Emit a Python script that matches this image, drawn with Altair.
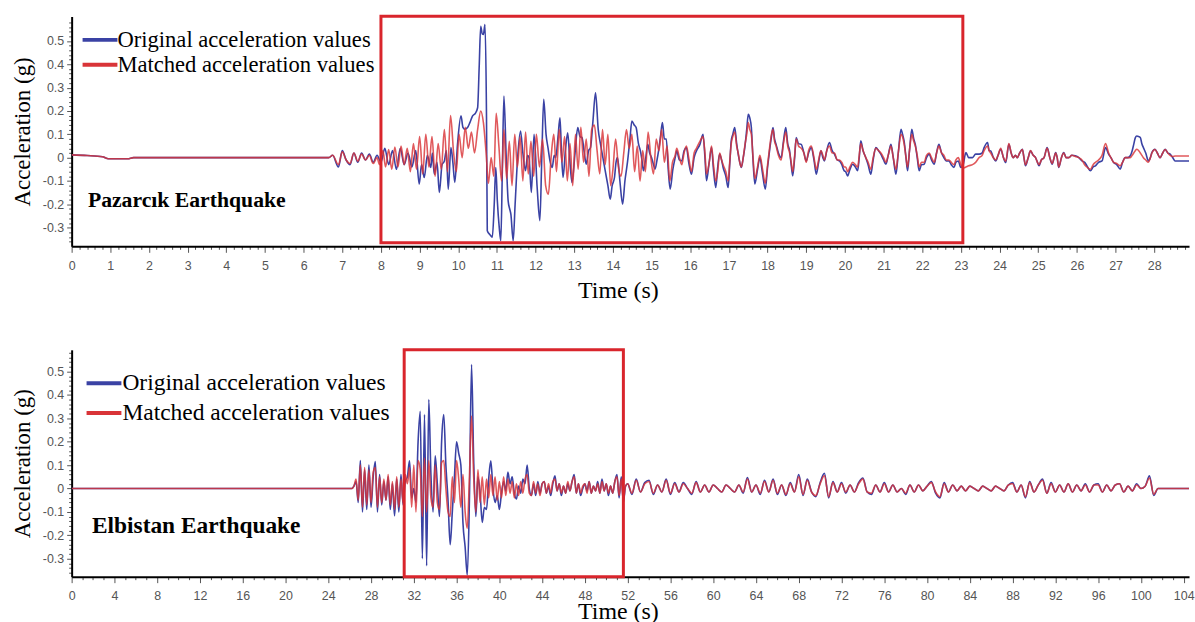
import altair as alt
import pandas as pd

ORIG = "Original acceleration values"
MATCH = "Matched acceleration values"
BLUE = "#3a42a4"
RED = "#d93438"
BOX_RED = "#d9252c"

# ---------------- Pazarcik record (time s, acceleration g) ----------------
TOP_PRE = [(0.0, 0.012), (0.4, 0.009), (0.8, 0.004), (0.95, -0.005), (1.45, -0.005),
           (1.6, 0.0), (6.65, 0.0)]

TOP_ORIG = [
    (6.75, 0.01), (6.9, -0.04), (7.0, 0.03), (7.1, -0.01), (7.2, -0.03), (7.3, 0.02),
    (7.4, -0.02), (7.5, 0.02), (7.6, -0.01), (7.7, 0.015), (7.8, -0.02), (7.9, 0.01),
    (8.0, -0.02), (8.1, 0.04), (8.2, -0.03), (8.3, 0.03), (8.4, -0.05), (8.5, 0.04),
    (8.6, -0.03), (8.7, 0.02), (8.8, -0.04), (8.9, 0.03), (8.99, -0.113), (9.05, -0.03),
    (9.12, -0.085), (9.2, 0.01), (9.29, -0.042), (9.33, 0.02), (9.38, -0.071), (9.45, -0.02),
    (9.51, -0.149), (9.58, -0.03), (9.64, -0.014), (9.69, 0.03), (9.74, -0.135), (9.81, 0.043),
    (9.86, -0.02), (9.91, -0.106), (9.98, 0.057), (10.07, 0.179), (10.12, 0.13), (10.17, 0.122),
    (10.24, 0.129), (10.3, 0.15), (10.37, 0.179), (10.44, 0.19), (10.5, 0.214), (10.54, 0.385),
    (10.58, 0.563), (10.62, 0.53), (10.65, 0.528), (10.69, 0.57), (10.73, 0.171), (10.75, -0.313),
    (10.82, -0.33), (10.88, -0.341), (10.93, -0.2), (10.97, -0.042), (11.01, -0.185), (11.06, -0.3),
    (11.1, -0.356), (11.14, -0.05), (11.18, 0.264), (11.24, 0.0), (11.29, -0.185), (11.33, -0.22),
    (11.36, -0.242), (11.42, -0.356), (11.47, -0.2), (11.53, -0.014), (11.61, 0.114), (11.67, 0.02),
    (11.74, -0.056), (11.79, 0.01), (11.83, 0.0), (11.89, -0.149), (11.96, 0.1), (12.04, -0.128),
    (12.11, -0.27), (12.16, 0.0), (12.21, 0.25), (12.27, 0.1), (12.32, 0.043), (12.38, -0.02),
    (12.43, -0.042), (12.48, 0.01), (12.52, 0.0), (12.58, 0.09), (12.63, 0.171), (12.67, 0.02),
    (12.71, -0.085), (12.77, 0.03), (12.83, 0.107), (12.88, 0.0), (12.94, -0.106), (13.02, 0.02),
    (13.09, 0.129), (13.15, 0.09), (13.2, 0.086), (13.26, 0.02), (13.31, -0.028), (13.37, 0.03),
    (13.42, 0.043), (13.48, 0.15), (13.55, 0.278), (13.62, 0.12), (13.68, 0.057), (13.74, 0.0),
    (13.8, -0.056), (13.87, -0.12), (13.93, -0.178), (13.98, -0.12), (14.04, -0.085), (14.08, -0.02),
    (14.12, 0.0), (14.18, -0.1), (14.25, -0.199), (14.31, -0.1), (14.38, -0.014), (14.44, 0.08),
    (14.49, 0.157), (14.55, 0.14), (14.6, 0.129), (14.66, 0.06), (14.71, 0.029), (14.75, -0.01),
    (14.79, -0.056), (14.85, 0.0), (14.9, 0.057), (14.95, 0.02), (15.0, 0.0), (15.05, -0.03),
    (15.09, -0.049), (15.14, -0.01), (15.18, 0.029), (15.23, 0.09), (15.28, 0.15), (15.33, 0.08),
    (15.38, 0.08), (15.43, -0.05), (15.48, -0.135), (15.55, -0.05), (15.61, 0.0), (15.65, 0.029),
    (15.72, -0.01), (15.78, -0.014), (15.84, 0.03), (15.9, 0.043), (15.96, -0.02), (16.03, -0.071),
    (16.1, 0.0), (16.16, 0.029), (16.25, 0.057), (16.33, 0.1), (16.38, 0.0), (16.42, -0.099),
    (16.49, -0.02), (16.55, 0.043), (16.6, -0.05), (16.66, -0.128), (16.71, -0.04), (16.76, 0.015),
    (16.81, -0.01), (16.85, -0.042), (16.92, -0.08), (16.98, -0.128), (17.02, -0.03), (17.06, 0.072),
    (17.1, 0.1), (17.15, 0.129), (17.2, 0.06), (17.24, 0.015), (17.28, -0.02), (17.32, -0.042),
    (17.37, 0.0), (17.41, 0.043), (17.46, 0.12), (17.5, 0.186), (17.54, 0.17), (17.58, 0.129),
    (17.62, 0.0), (17.67, -0.113), (17.74, -0.05), (17.8, 0.0), (17.87, -0.07), (17.94, -0.135),
    (18.0, -0.04), (18.05, 0.029), (18.1, 0.09), (18.14, 0.129), (18.18, 0.08), (18.22, 0.057),
    (18.28, 0.02), (18.35, 0.0), (18.41, 0.07), (18.47, 0.129), (18.52, 0.06), (18.57, 0.029),
    (18.61, -0.03), (18.65, -0.078), (18.7, 0.0), (18.74, 0.086), (18.8, 0.06), (18.87, 0.057),
    (18.94, 0.02), (19.0, -0.014), (19.06, 0.02), (19.13, 0.043), (19.2, -0.01), (19.26, -0.071),
    (19.32, -0.02), (19.38, 0.029), (19.43, 0.0), (19.47, -0.014), (19.53, 0.03), (19.6, 0.065),
    (19.67, 0.03), (19.73, 0.015), (19.8, -0.01), (19.86, -0.014), (19.92, -0.03), (19.98, -0.056),
    (20.02, -0.06), (20.07, -0.078), (20.13, -0.05), (20.2, -0.028), (20.27, -0.04), (20.33, -0.056),
    (20.37, 0.0), (20.41, 0.072), (20.47, 0.03), (20.54, 0.0), (20.6, -0.03), (20.67, -0.071),
    (20.73, -0.01), (20.8, 0.043), (20.87, 0.03), (20.93, 0.015), (21.0, -0.01), (21.06, -0.028),
    (21.12, 0.01), (21.19, 0.057), (21.25, 0.0), (21.32, -0.071), (21.38, 0.02), (21.45, 0.122),
    (21.49, 0.1), (21.53, 0.072), (21.58, 0.0), (21.62, -0.056), (21.67, 0.03), (21.73, 0.122),
    (21.78, 0.08), (21.82, 0.057), (21.87, 0.0), (21.92, -0.056), (21.98, -0.03), (22.05, -0.028),
    (22.11, 0.0), (22.18, 0.015), (22.24, -0.01), (22.31, -0.028), (22.37, 0.02), (22.43, 0.057),
    (22.5, 0.02), (22.56, 0.0), (22.62, -0.014), (22.69, -0.014), (22.75, -0.03), (22.82, -0.042),
    (22.87, -0.02), (22.93, -0.014), (23.0, -0.042), (23.05, -0.035), (23.13, 0.022), (23.2, 0.0),
    (23.3, 0.0), (23.38, 0.015), (23.47, 0.015), (23.55, 0.02), (23.6, 0.043), (23.69, 0.065),
    (23.73, 0.03), (23.77, 0.029), (23.84, 0.0), (23.9, -0.014), (23.96, 0.01), (24.03, 0.036),
    (24.1, 0.0), (24.16, -0.021), (24.24, 0.057), (24.3, 0.02), (24.35, 0.0), (24.41, 0.01),
    (24.46, 0.0), (24.52, 0.02), (24.59, 0.036), (24.63, 0.0), (24.67, -0.035), (24.74, 0.0),
    (24.8, 0.029), (24.87, 0.01), (24.93, 0.0), (24.98, -0.02), (25.02, -0.035), (25.08, -0.01),
    (25.15, 0.0), (25.23, 0.043), (25.3, 0.0), (25.36, -0.028), (25.41, 0.0), (25.45, 0.022),
    (25.49, 0.0), (25.53, -0.042), (25.6, 0.0), (25.66, 0.022), (25.72, 0.0), (25.79, 0.0),
    (25.87, 0.01), (25.96, 0.008), (26.05, 0.0), (26.13, -0.014), (26.2, -0.02), (26.26, -0.035),
    (26.35, -0.056), (26.42, -0.04), (26.48, -0.035), (26.56, -0.02), (26.65, -0.014), (26.74, 0.043),
    (26.82, 0.015), (26.88, 0.0), (26.95, -0.021), (27.03, -0.03), (27.12, -0.049), (27.18, -0.02),
    (27.25, 0.0), (27.32, 0.0), (27.38, 0.008), (27.43, 0.03), (27.47, 0.057), (27.51, 0.085),
    (27.55, 0.093), (27.6, 0.09), (27.64, 0.086), (27.68, 0.06), (27.72, 0.043), (27.78, 0.02),
    (27.85, -0.014), (27.9, 0.0), (27.94, 0.022), (28.02, 0.036), (28.08, 0.02), (28.15, 0.0),
    (28.22, 0.02), (28.28, 0.036), (28.35, 0.02), (28.41, 0.015), (28.48, 0.0), (28.54, -0.014),
    (28.62, -0.014), (28.9, -0.014),
]

TOP_MATCH = [
    (6.75, 0.01), (6.9, -0.03), (7.0, 0.025), (7.1, -0.01), (7.2, -0.025), (7.3, 0.02),
    (7.4, -0.015), (7.5, 0.015), (7.6, -0.01), (7.7, 0.01), (7.8, -0.025), (7.9, 0.0),
    (7.96, -0.03), (8.05, 0.03), (8.12, -0.04), (8.2, 0.035), (8.28, -0.05), (8.36, 0.045),
    (8.44, -0.04), (8.52, 0.05), (8.6, -0.03), (8.68, 0.04), (8.76, -0.06), (8.84, 0.06),
    (8.92, -0.05), (9.0, 0.09), (9.08, -0.07), (9.16, 0.1), (9.24, -0.04), (9.32, 0.09),
    (9.4, -0.08), (9.48, 0.06), (9.56, -0.05), (9.64, 0.12), (9.72, -0.06), (9.8, 0.18),
    (9.88, 0.02), (9.95, -0.06), (10.02, 0.1), (10.1, 0.0), (10.18, 0.13), (10.26, 0.04),
    (10.34, 0.11), (10.42, 0.02), (10.5, 0.12), (10.58, 0.2), (10.65, 0.15), (10.72, 0.02),
    (10.78, -0.11), (10.85, 0.0), (10.92, -0.08), (10.98, 0.19), (11.05, 0.05), (11.12, -0.1),
    (11.18, 0.12), (11.25, -0.09), (11.32, 0.07), (11.39, -0.12), (11.46, 0.1), (11.53, -0.04),
    (11.6, 0.09), (11.67, -0.1), (11.74, 0.11), (11.81, -0.07), (11.88, 0.07), (11.95, -0.08),
    (12.02, 0.1), (12.1, -0.04), (12.18, 0.08), (12.26, -0.12), (12.33, -0.157), (12.4, 0.0),
    (12.47, 0.1), (12.54, -0.06), (12.61, 0.12), (12.68, -0.02), (12.75, 0.09), (12.82, -0.1),
    (12.89, 0.06), (12.96, -0.12), (13.03, 0.1), (13.1, -0.05), (13.17, 0.13), (13.24, -0.02),
    (13.31, 0.08), (13.38, -0.08), (13.45, 0.12), (13.52, 0.14), (13.59, 0.03), (13.66, -0.07),
    (13.73, 0.12), (13.8, -0.03), (13.87, 0.1), (13.94, -0.12), (14.0, -0.05), (14.07, 0.08),
    (14.14, -0.04), (14.21, -0.08), (14.28, 0.02), (14.35, 0.12), (14.42, 0.04), (14.49, 0.1),
    (14.56, -0.06), (14.63, 0.05), (14.7, -0.1), (14.77, 0.03), (14.84, -0.06), (14.91, 0.11),
    (14.98, 0.0), (15.05, -0.07), (15.12, 0.08), (15.19, 0.03), (15.26, 0.12), (15.33, -0.02),
    (15.4, 0.05), (15.47, -0.1), (15.54, -0.02), (15.61, 0.01), (15.65, 0.04), (15.72, 0.0),
    (15.78, -0.03), (15.84, 0.02), (15.9, 0.05), (15.96, 0.0), (16.03, -0.06), (16.1, 0.02),
    (16.16, 0.04), (16.25, 0.07), (16.33, 0.09), (16.38, 0.02), (16.42, -0.07), (16.49, -0.02),
    (16.55, 0.05), (16.6, -0.03), (16.66, -0.1), (16.71, -0.06), (16.76, 0.02), (16.81, -0.01),
    (16.85, -0.03), (16.92, -0.06), (16.98, -0.1), (17.02, -0.02), (17.06, 0.06), (17.1, 0.09),
    (17.15, 0.11), (17.2, 0.05), (17.24, 0.02), (17.28, -0.02), (17.32, -0.04), (17.37, 0.0),
    (17.41, 0.05), (17.46, 0.1), (17.5, 0.15), (17.54, 0.12), (17.58, 0.1), (17.62, 0.01),
    (17.67, -0.09), (17.74, -0.04), (17.8, 0.01), (17.87, -0.05), (17.94, -0.11), (18.0, -0.03),
    (18.05, 0.04), (18.1, 0.1), (18.14, 0.12), (18.18, 0.07), (18.22, 0.05), (18.28, 0.01),
    (18.35, -0.01), (18.41, 0.06), (18.47, 0.11), (18.52, 0.05), (18.57, 0.02), (18.61, -0.02),
    (18.65, -0.06), (18.7, 0.01), (18.74, 0.08), (18.8, 0.05), (18.87, 0.04), (18.94, 0.02),
    (19.0, -0.02), (19.06, 0.03), (19.13, 0.05), (19.2, 0.0), (19.26, -0.05), (19.32, -0.01),
    (19.38, 0.03), (19.43, 0.01), (19.47, -0.01), (19.53, 0.03), (19.6, 0.05), (19.67, 0.02),
    (19.73, 0.02), (19.8, -0.01), (19.86, -0.01), (19.92, -0.02), (19.98, -0.04), (20.02, -0.04),
    (20.07, -0.06), (20.13, -0.04), (20.2, -0.02), (20.27, -0.03), (20.33, -0.04), (20.37, 0.01),
    (20.41, 0.06), (20.47, 0.03), (20.54, 0.0), (20.6, -0.02), (20.67, -0.05), (20.73, 0.0),
    (20.8, 0.04), (20.87, 0.03), (20.93, 0.02), (21.0, 0.0), (21.06, -0.02), (21.12, 0.01),
    (21.19, 0.05), (21.25, 0.0), (21.32, -0.05), (21.38, 0.02), (21.45, 0.1), (21.49, 0.09),
    (21.53, 0.06), (21.58, 0.0), (21.62, -0.04), (21.67, 0.03), (21.73, 0.1), (21.78, 0.07),
    (21.82, 0.05), (21.87, 0.01), (21.92, -0.04), (21.98, -0.02), (22.05, -0.02), (22.11, 0.01),
    (22.18, 0.02), (22.24, 0.0), (22.31, -0.02), (22.37, 0.02), (22.43, 0.05), (22.5, 0.02),
    (22.56, 0.01), (22.62, -0.01), (22.69, -0.01), (22.75, -0.02), (22.82, -0.03), (22.87, -0.01),
    (22.93, 0.0), (23.0, -0.03), (23.05, -0.045), (23.13, -0.04), (23.2, -0.035), (23.3, -0.03),
    (23.38, -0.02), (23.47, 0.0), (23.55, 0.01), (23.6, 0.03), (23.69, 0.05), (23.73, 0.03),
    (23.77, 0.02), (23.84, 0.0), (23.9, -0.01), (23.96, 0.01), (24.03, 0.04), (24.1, 0.0),
    (24.16, -0.015), (24.24, 0.06), (24.3, 0.02), (24.35, 0.0), (24.41, 0.01), (24.46, 0.0),
    (24.52, 0.02), (24.59, 0.035), (24.63, 0.0), (24.67, -0.03), (24.74, 0.0), (24.8, 0.03),
    (24.87, 0.01), (24.93, 0.0), (24.98, -0.02), (25.02, -0.03), (25.08, -0.01), (25.15, 0.0),
    (25.23, 0.04), (25.3, 0.0), (25.36, -0.025), (25.41, 0.0), (25.45, 0.02), (25.49, 0.0),
    (25.53, -0.04), (25.6, 0.0), (25.66, 0.02), (25.72, 0.0), (25.79, 0.0), (25.87, 0.01),
    (25.96, 0.005), (26.05, 0.0), (26.13, -0.01), (26.2, -0.03), (26.26, -0.04), (26.35, -0.05),
    (26.42, -0.03), (26.48, -0.02), (26.56, -0.01), (26.65, 0.01), (26.74, 0.06), (26.82, 0.02),
    (26.88, 0.0), (26.95, -0.02), (27.03, -0.025), (27.12, -0.035), (27.18, -0.02), (27.25, 0.0),
    (27.32, 0.0), (27.38, 0.0), (27.43, 0.01), (27.47, 0.02), (27.51, 0.03), (27.55, 0.036),
    (27.6, 0.03), (27.64, 0.02), (27.68, 0.01), (27.72, 0.0), (27.78, -0.01), (27.85, -0.02),
    (27.9, 0.0), (27.94, 0.02), (28.02, 0.035), (28.08, 0.02), (28.15, 0.0), (28.22, 0.02),
    (28.28, 0.035), (28.35, 0.02), (28.41, 0.01), (28.48, 0.005), (28.54, 0.007), (28.62, 0.007),
    (28.9, 0.007),
]

# ---------------- Elbistan record ----------------
BOT_LEAD = [(0.0, 0.0)]
BOT_STRONG_START = 26.0
BOT_STRONG_DT = 0.2
BOT_ORIG_STRONG = [
    0.0, 0.0, 0.01, 0.03, -0.06, 0.12, -0.1, 0.08, -0.09, 0.1,
    -0.08, 0.05, 0.115, -0.1, 0.06, -0.07, 0.03, -0.05, 0.05, -0.09,
    0.02, -0.117, 0.04, -0.1, 0.06, -0.07, 0.03, 0.05, 0.118, -0.04,
    0.0, -0.06, 0.2, 0.33, -0.3, 0.316, -0.33, 0.38, 0.06, -0.1,
    0.14, 0.02, -0.12, 0.2, 0.316, 0.1, -0.05, -0.24, -0.1, 0.05,
    0.2, 0.15, 0.1, -0.15, -0.25, -0.37, -0.05, 0.53, 0.12, -0.12,
    0.05, -0.02, -0.145, -0.08, -0.09, 0.04, 0.118, 0.0, -0.06, -0.03,
    -0.09, -0.02, 0.03, -0.01, 0.07, 0.02, 0.05, -0.02, -0.045, 0.01,
    -0.02, 0.04, 0.02, 0.1, 0.0, -0.03, 0.02, -0.03, 0.03, -0.02,
    0.02, 0.03, -0.02, 0.01, -0.03, 0.02, 0.054, -0.01, 0.02, -0.03,
    0.01, -0.02, 0.02, -0.01, 0.03, 0.06, -0.02, 0.02, -0.03, 0.0,
    0.02, -0.01, 0.03, -0.02, 0.01, -0.01, 0.03, -0.02, 0.04, -0.01,
    0.02, -0.03, 0.01, -0.02, 0.03, 0.06, -0.04, 0.05, -0.06, 0.01,
]
BOT_MATCH_STRONG = [
    0.0, 0.0, 0.01, 0.04, -0.05, 0.1, -0.08, 0.09, -0.07, 0.08,
    -0.06, 0.07, 0.09, -0.08, 0.05, -0.06, 0.04, -0.05, 0.06, -0.07,
    0.03, -0.09, 0.05, -0.08, 0.04, -0.06, 0.06, 0.02, 0.09, -0.08,
    0.1, -0.1, 0.12, 0.08, -0.12, 0.13, -0.1, 0.12, -0.04, -0.08,
    0.1, -0.06, -0.09, 0.11, 0.12, 0.0, -0.1, -0.12, 0.05, -0.06,
    0.12, 0.04, -0.08, 0.06, -0.1, -0.17, 0.05, 0.31, 0.05, -0.1,
    0.08, -0.06, 0.05, -0.07, 0.04, -0.04, 0.06, -0.03, 0.05, -0.05,
    0.03, -0.04, 0.05, -0.03, 0.04, -0.02, 0.03, -0.04, 0.02, -0.03,
    0.03, -0.02, 0.04, 0.06, -0.02, -0.03, 0.03, -0.02, 0.02, -0.03,
    0.02, 0.03, -0.02, 0.02, -0.02, 0.03, 0.04, -0.01, 0.02, -0.02,
    0.01, -0.02, 0.03, -0.01, 0.03, 0.05, -0.02, 0.02, -0.02, 0.01,
    0.02, -0.02, 0.03, -0.02, 0.01, -0.01, 0.02, -0.02, 0.03, -0.01,
    0.02, -0.02, 0.01, -0.02, 0.03, 0.05, -0.03, 0.04, -0.05, 0.01,
]
BOT_TAIL_START = 52.0
BOT_TAIL_DT = 0.4
BOT_ORIG_TAIL = [
    0.02, -0.025, 0.04, -0.015, 0.025, 0.035, -0.025, 0.015, -0.015, 0.04,
    -0.025, 0.025, -0.015, 0.025, 0.0, -0.025, 0.03, -0.015, 0.015, -0.015,
    0.015, 0.0, -0.015, 0.015, 0.0, -0.015, 0.015, -0.02, 0.047, -0.015,
    0.015, -0.025, 0.035, -0.015, 0.04, -0.025, 0.015, -0.03, 0.025, -0.015,
    0.06, -0.03, 0.04, -0.015, -0.035, 0.025, 0.065, -0.04, 0.03, -0.015,
    0.025, -0.02, 0.015, -0.015, 0.025, 0.045, -0.015, -0.025, 0.015, -0.015,
    0.025, -0.015, 0.015, -0.015, 0.0, -0.025, 0.015, -0.015, 0.015, -0.01,
    0.01, 0.03, -0.02, -0.04, 0.025, -0.015, 0.015, -0.01, 0.01, -0.01,
    0.01, 0.0, -0.01, 0.01, 0.0, -0.01, 0.01, 0.0, -0.01, 0.015,
    0.025, -0.015, 0.015, -0.04, 0.03, -0.015, 0.015, 0.04, -0.02, 0.025,
    -0.015, 0.015, -0.015, 0.02, -0.015, 0.015, -0.01, 0.02, -0.015, 0.015,
    0.02, -0.015, 0.015, -0.01, 0.015, 0.02, -0.015, 0.01, -0.01, 0.02,
    0.0, 0.01, 0.054, -0.03,
]
BOT_MATCH_TAIL = [
    0.02, -0.02, 0.035, -0.015, 0.02, 0.03, -0.02, 0.015, -0.015, 0.035,
    -0.02, 0.02, -0.015, 0.02, 0.0, -0.02, 0.025, -0.015, 0.015, -0.015,
    0.015, 0.0, -0.015, 0.015, 0.0, -0.015, 0.015, -0.015, 0.04, -0.015,
    0.015, -0.02, 0.03, -0.015, 0.035, -0.02, 0.015, -0.025, 0.02, -0.015,
    0.05, -0.025, 0.035, -0.015, -0.03, 0.02, 0.055, -0.035, 0.025, -0.015,
    0.02, -0.015, 0.015, -0.015, 0.02, 0.04, -0.015, -0.02, 0.015, -0.015,
    0.02, -0.015, 0.015, -0.015, 0.0, -0.02, 0.015, -0.015, 0.015, -0.01,
    0.01, 0.025, -0.015, -0.035, 0.02, -0.015, 0.015, -0.01, 0.01, -0.01,
    0.01, 0.0, -0.01, 0.01, 0.0, -0.01, 0.01, 0.0, -0.01, 0.015,
    0.02, -0.015, 0.015, -0.035, 0.025, -0.015, 0.015, 0.035, -0.02, 0.02,
    -0.015, 0.015, -0.015, 0.02, -0.015, 0.015, -0.01, 0.015, -0.015, 0.015,
    0.015, -0.015, 0.015, -0.01, 0.015, 0.02, -0.015, 0.01, -0.01, 0.015,
    0.0, 0.01, 0.045, -0.025,
]
BOT_END = [(101.6, 0.0), (104.5, 0.0)]

# highlighted windows [t0, t1, a_low, a_high] and panel labels [text, t, a]
TOP_BOX = [8.0, 23.05, -0.365, 0.606]
BOT_BOX = [31.1, 51.6, -0.377, 0.593]
TOP_LABEL = ["Pazarcık Earthquake", 0.42, -0.182]
BOT_LABEL = ["Elbistan Earthquake", 1.9, -0.159]

TOP_XDOMAIN = [0, 28.9]
TOP_YDOMAIN = [-0.38, 0.605]
BOT_XDOMAIN = [0, 104.5]
BOT_YDOMAIN = [-0.377, 0.593]

TOP_XTICKS = [round(0.2 * i, 1) for i in range(145)]
BOT_XTICKS = list(range(105))
Y_TICKS = [round(-0.36 + 0.02 * i, 2) for i in range(48)]


def frame(pairs, name):
    return pd.DataFrame({"t": [p[0] for p in pairs], "v": [p[1] for p in pairs], "s": name})


def bottom_pairs(strong, tail):
    pts = list(BOT_LEAD)
    pts += [(round(BOT_STRONG_START + BOT_STRONG_DT * i, 2), v) for i, v in enumerate(strong)]
    pts += [(round(BOT_TAIL_START + BOT_TAIL_DT * i, 2), v) for i, v in enumerate(tail)]
    pts += BOT_END
    return pts


top_orig = frame(TOP_PRE + TOP_ORIG, ORIG)
top_match = frame(TOP_PRE + TOP_MATCH, MATCH)
bot_orig = frame(bottom_pairs(BOT_ORIG_STRONG, BOT_ORIG_TAIL), ORIG)
bot_match = frame(bottom_pairs(BOT_MATCH_STRONG, BOT_MATCH_TAIL), MATCH)

Y_MAJOR = "abs(datum.value*10 - round(datum.value*10)) < 0.001"
Y_LABEL = (Y_MAJOR + " && datum.value > -0.35 && datum.value < 0.55 ? "
           "(abs(datum.value) < 0.001 ? '0' : replace(format(datum.value, '.1f'), '\u2212', '-')) : ''")

# legend key: a 35 px horizontal stroke drawn with a 20 px symbol size
LEGEND_KEY = "M-1.75,0H1.75"


def make_panel(orig, match, box, label, xdom, ydom, xticks, xmajor, h,
               title_y, legend_x, legend_y, legend_size, row_pad, label_offset,
               label_size, interp):
    xaxis = alt.Axis(
        values=xticks, labelExpr=xmajor + " ? format(datum.value, 'd') : ''",
        tickSize={"condition": {"test": xmajor, "value": 6}, "value": 3},
        tickColor="#555", domainColor="black", domainWidth=2,
        labelColor="#555", labelFont="Liberation Sans", labelFontSize=12.5,
        labelPadding=7, labelOverlap=False, labelFlush=False, grid=False,
        title="Time (s)", titleFont="Liberation Serif", titleFontSize=24,
        titleFontWeight="normal", titleColor="black",
        titleX=549, titleY=title_y, titleBaseline="middle",
    )
    yaxis = alt.Axis(
        values=Y_TICKS, labelExpr=Y_LABEL,
        tickSize={"condition": {"test": Y_MAJOR, "value": 5}, "value": 3},
        tickColor="#555", domainColor="black", domainWidth=2,
        labelColor="#555", labelFont="Liberation Sans", labelFontSize=12.5,
        labelPadding=3, labelOverlap=False, labelFlush=False, grid=False,
        title="Acceleration (g)", titleFont="Liberation Serif", titleFontSize=23,
        titleFontWeight="normal", titleColor="black", titlePadding=8,
    )
    xs = alt.Scale(domain=xdom, nice=False, zero=False)
    ys = alt.Scale(domain=ydom, nice=False, zero=False)
    cscale = alt.Scale(domain=[ORIG, MATCH], range=[BLUE, RED])
    legend = alt.Legend(
        title=None, orient="none", legendX=legend_x, legendY=legend_y,
        symbolType=LEGEND_KEY, symbolStrokeWidth=4, symbolSize=400, symbolOpacity=1,
        labelFont="Liberation Serif", labelFontSize=legend_size, labelColor="black",
        labelOffset=label_offset, rowPadding=row_pad, padding=0, labelLimit=0,
    )
    enc_x = alt.X("t:Q", scale=xs, axis=xaxis)
    enc_y = alt.Y("v:Q", scale=ys, axis=yaxis)
    blue = alt.Chart(orig).mark_line(strokeWidth=1.6, clip=True, interpolate=interp).encode(
        x=enc_x, y=enc_y, color=alt.Color("s:N", scale=cscale, legend=legend))
    red = alt.Chart(match).mark_line(strokeWidth=1.6, opacity=0.82, clip=True,
                                     interpolate=interp).encode(
        x=enc_x, y=enc_y, color=alt.Color("s:N", scale=cscale, legend=legend))
    box_df = pd.DataFrame({"t": [box[0]], "t2": [box[1]], "v": [box[2]], "v2": [box[3]]})
    rect = alt.Chart(box_df).mark_rect(fillOpacity=0, stroke=BOX_RED, strokeWidth=3).encode(
        x=enc_x, x2="t2:Q", y=enc_y, y2="v2:Q")
    lab_df = pd.DataFrame({"txt": [label[0]], "t": [label[1]], "v": [label[2]]})
    text = alt.Chart(lab_df).mark_text(
        align="left", baseline="middle", font="Liberation Serif", fontWeight="bold",
        fontSize=label_size, color="black").encode(x=enc_x, y=enc_y, text="txt:N")
    return alt.layer(blue, red, rect, text).properties(width=1123, height=h)


top = make_panel(top_orig, top_match, TOP_BOX, TOP_LABEL, TOP_XDOMAIN, TOP_YDOMAIN,
                 TOP_XTICKS, "abs(datum.value - round(datum.value)) < 0.001", 231,
                 44, 16.5, 11.5, 22.7, 1, 5.5, 21.8, "monotone")
bottom = make_panel(bot_orig, bot_match, BOT_BOX, BOT_LABEL, BOT_XDOMAIN, BOT_YDOMAIN,
                    BOT_XTICKS, "datum.value % 4 == 0", 228,
                    35, 20.5, 21.5, 23.6, 6, 6.5, 23.5, "monotone")

chart = alt.vconcat(top, bottom, spacing=104, bounds="flush").resolve_scale(
    color="independent"
).configure_view(strokeWidth=0).properties(
    padding={"left": 11, "top": 13, "right": 0, "bottom": 0},
    background="white",
)

chart.save("out.html", embed_options={"renderer": "svg", "actions": False})
